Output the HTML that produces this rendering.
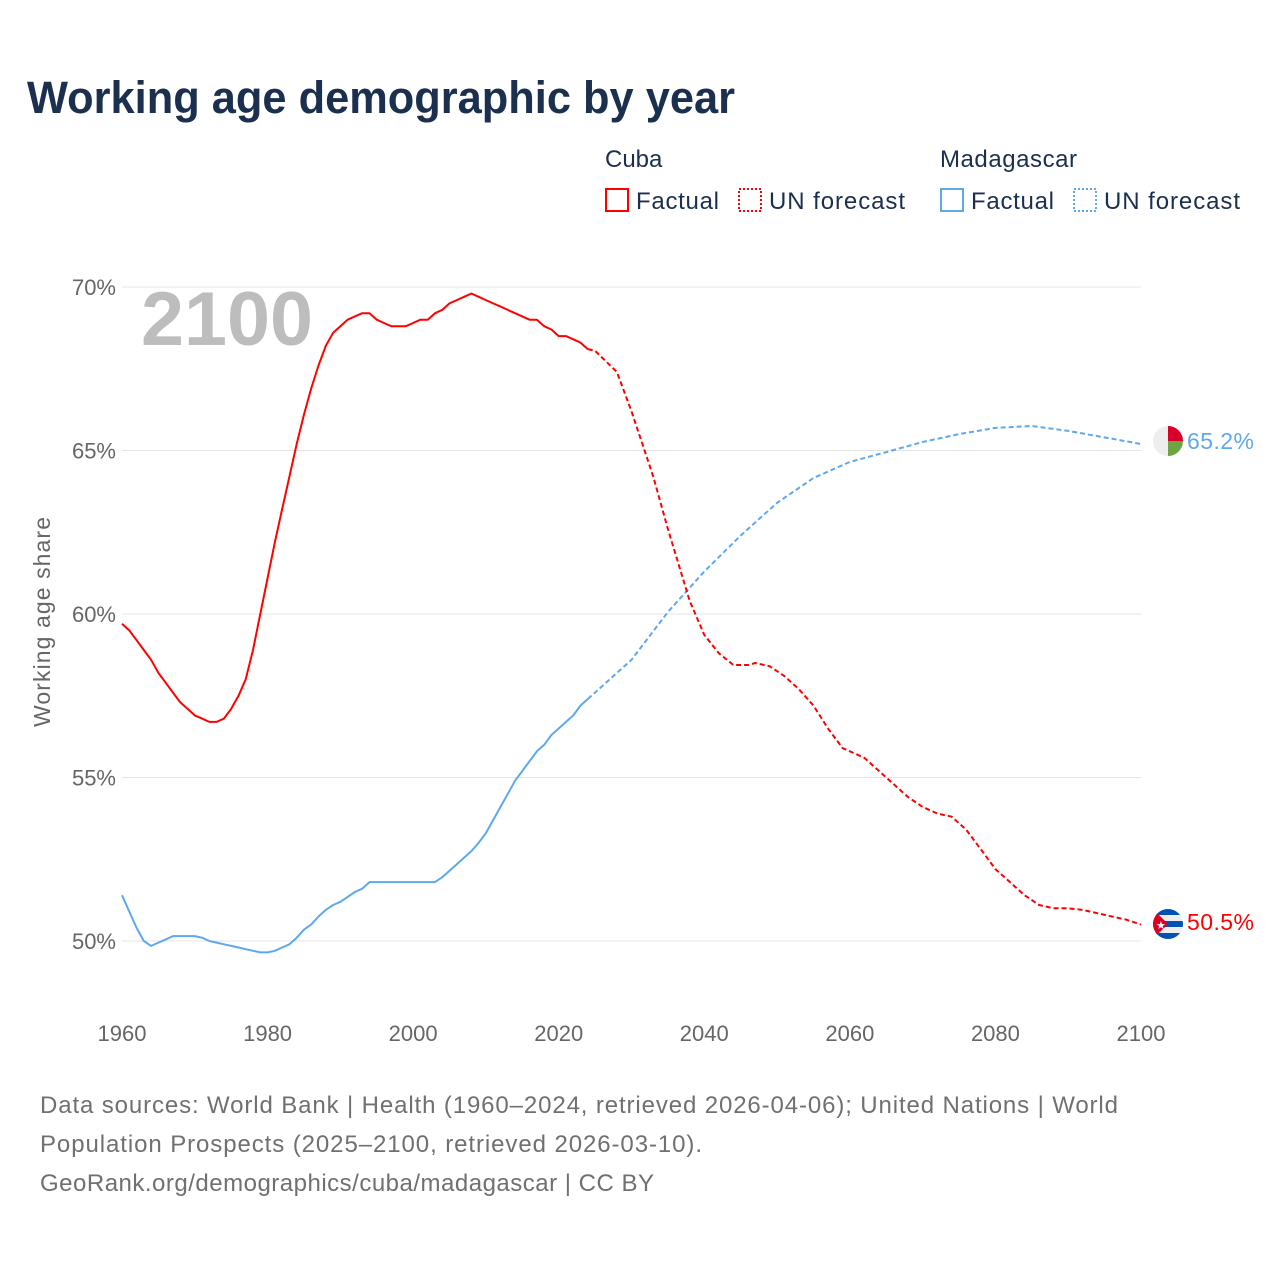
<!DOCTYPE html>
<html><head><meta charset="utf-8">
<style>
html,body{margin:0;padding:0;background:#fff;}
body{width:1280px;height:1280px;position:relative;overflow:hidden;font-family:"Liberation Sans",sans-serif;}
svg text{font-family:"Liberation Sans",sans-serif;}
</style></head>
<body>
<svg id="chart" width="1280" height="1280" xmlns="http://www.w3.org/2000/svg">
<text x="27" y="113" font-size="45" font-weight="bold" fill="#1b2f4e" textLength="708" lengthAdjust="spacingAndGlyphs">Working age demographic by year</text>
<g font-size="24" fill="#1b2f4e">
<text x="605" y="167">Cuba</text>
<rect x="606" y="189" width="22" height="22" fill="none" stroke="#ff0000" stroke-width="2"/>
<text x="636" y="209" textLength="83">Factual</text>
<rect x="739" y="189" width="22" height="22" fill="none" stroke="#ff0000" stroke-width="2" stroke-dasharray="2,2"/>
<text x="769" y="209" textLength="136">UN forecast</text>
<text x="940" y="167" textLength="137">Madagascar</text>
<rect x="941" y="189" width="22" height="22" fill="none" stroke="#5ea8ec" stroke-width="2"/>
<text x="971" y="209" textLength="83">Factual</text>
<rect x="1074" y="189" width="22" height="22" fill="none" stroke="#5ea8ec" stroke-width="2" stroke-dasharray="2,2"/>
<text x="1104" y="209" textLength="136">UN forecast</text>
</g>
<g id="grid"></g>
<text x="141" y="345" font-size="76" font-weight="bold" fill="#bdbdbd" textLength="172" lengthAdjust="spacingAndGlyphs">2100</text>
<text transform="translate(50,622) rotate(-90)" text-anchor="middle" font-size="23" fill="#666" textLength="210">Working age share</text>
<g id="series"></g>
<g>
<clipPath id="cm"><circle cx="1168" cy="441" r="15"/></clipPath>
<g clip-path="url(#cm)"><rect x="1153" y="426" width="30" height="30" fill="#eeeeee"/><rect x="1168" y="426" width="15" height="15" fill="#d8002b"/><rect x="1168" y="441" width="15" height="15" fill="#6da544"/></g>
</g>
<g>
<clipPath id="cc"><circle cx="1168" cy="924" r="15"/></clipPath>
<g clip-path="url(#cc)"><rect x="1153" y="909" width="30" height="30" fill="#eeeeee"/><rect x="1153" y="909" width="30" height="6" fill="#0052b4"/><rect x="1153" y="921" width="30" height="6" fill="#0052b4"/><rect x="1153" y="933" width="30" height="6" fill="#0052b4"/><polygon points="1153,909 1168,924 1153,939" fill="#d80027"/><text x="1156" y="929" font-size="11" fill="#fff">★</text></g>
</g>
<text x="1187" y="449" font-size="23" fill="#5ea8ec" textLength="67">65.2%</text>
<text x="1187" y="930" font-size="23" fill="#ff0000" textLength="67">50.5%</text>
<g font-size="24" fill="#707070">
<text x="40" y="1113" textLength="1078">Data sources: World Bank | Health (1960–2024, retrieved 2026-04-06); United Nations | World</text>
<text x="40" y="1152" textLength="662">Population Prospects (2025–2100, retrieved 2026-03-10).</text>
<text x="40" y="1191" textLength="614">GeoRank.org/demographics/cuba/madagascar | CC BY</text>
</g>
</svg>
<script>
const yTicks=[50,55,60,65,70];
const xTicks=[1960,1980,2000,2020,2040,2060,2080,2100];
const cubaFactualYears=[1960,1961,1962,1963,1964,1965,1966,1967,1968,1969,1970,1971,1972,1973,1974,1975,1976,1977,1978,1979,1980,1981,1982,1983,1984,1985,1986,1987,1988,1989,1990,1991,1992,1993,1994,1995,1996,1997,1998,1999,2000,2001,2002,2003,2004,2005,2006,2007,2008,2009,2010,2011,2012,2013,2014,2015,2016,2017,2018,2019,2020,2021,2022,2023,2024];
const cubaFactual=[59.7,59.5,59.2,58.9,58.6,58.2,57.9,57.6,57.3,57.1,56.9,56.8,56.7,56.7,56.8,57.1,57.5,58.0,58.9,60.0,61.1,62.2,63.2,64.2,65.2,66.1,66.9,67.6,68.2,68.6,68.8,69.0,69.1,69.2,69.2,69.0,68.9,68.8,68.8,68.8,68.9,69.0,69.0,69.2,69.3,69.5,69.6,69.7,69.8,69.7,69.6,69.5,69.4,69.3,69.2,69.1,69.0,69.0,68.8,68.7,68.5,68.5,68.4,68.3,68.1];
const cubaForecastYears=[2024,2025,2028,2030,2033,2035,2038,2040,2042,2044,2046,2047,2049,2051,2053,2055,2057,2059,2060,2062,2064,2066,2068,2070,2072,2074,2076,2078,2080,2082,2084,2086,2088,2090,2092,2094,2096,2098,2100];
const cubaForecast=[68.1,68.05,67.4,66.2,64.2,62.6,60.4,59.36,58.8,58.44,58.44,58.5,58.4,58.1,57.7,57.2,56.5,55.9,55.8,55.6,55.2,54.8,54.4,54.1,53.9,53.8,53.4,52.8,52.2,51.8,51.4,51.1,51.0,51.0,50.95,50.85,50.75,50.65,50.5];
const madFactualYears=[1960,1961,1962,1963,1964,1965,1966,1967,1968,1969,1970,1971,1972,1973,1974,1975,1976,1977,1978,1979,1980,1981,1982,1983,1984,1985,1986,1987,1988,1989,1990,1991,1992,1993,1994,1995,1996,1997,1998,1999,2000,2001,2002,2003,2004,2005,2006,2007,2008,2009,2010,2011,2012,2013,2014,2015,2016,2017,2018,2019,2020,2021,2022,2023,2024];
const madFactual=[51.4,50.9,50.4,50.0,49.85,49.95,50.05,50.15,50.15,50.15,50.15,50.1,50.0,49.95,49.9,49.85,49.8,49.75,49.7,49.65,49.65,49.7,49.8,49.9,50.1,50.35,50.5,50.75,50.95,51.1,51.2,51.35,51.5,51.6,51.8,51.8,51.8,51.8,51.8,51.8,51.8,51.8,51.8,51.8,51.95,52.15,52.35,52.55,52.75,53.0,53.3,53.7,54.1,54.5,54.9,55.2,55.5,55.8,56.0,56.3,56.5,56.7,56.9,57.2,57.4];
const madForecastYears=[2024,2025,2030,2035,2040,2045,2050,2055,2060,2065,2070,2075,2080,2085,2090,2095,2100];
const madForecast=[57.4,57.6,58.6,60.06,61.3,62.4,63.4,64.16,64.65,64.95,65.26,65.5,65.69,65.75,65.6,65.4,65.2];

const NS="http://www.w3.org/2000/svg";
const x=yr=>122+(yr-1960)*(1141-122)/140;
const y=v=>287+(70-v)*(941-287)/20;
const grid=document.getElementById('grid');
yTicks.forEach(t=>{
  const l=document.createElementNS(NS,'line');
  
  
  l.setAttribute('x1',122);l.setAttribute('x2',1141);
  l.setAttribute('y1',y(t));l.setAttribute('y2',y(t));
  l.setAttribute('stroke','#e4e4e4');l.setAttribute('stroke-width','1');
  grid.appendChild(l);
  const tx=document.createElementNS(NS,'text');
  
  
  tx.setAttribute('x',116);tx.setAttribute('y',y(t)+8);
  tx.setAttribute('text-anchor','end');tx.setAttribute('font-size','22');tx.setAttribute('fill','#666');
  tx.textContent=t+'%';
  grid.appendChild(tx);
});
xTicks.forEach(t=>{
  const tx=document.createElementNS(NS,'text');
  
  
  tx.setAttribute('x',x(t));tx.setAttribute('y',1041);
  tx.setAttribute('text-anchor','middle');tx.setAttribute('font-size','22');tx.setAttribute('fill','#666');
  tx.textContent=t;
  grid.appendChild(tx);
});
const series=document.getElementById('series');
function line(yrs,vals,color,dash,name){
  const p=document.createElementNS(NS,'path');
  
  
  p.setAttribute('d',yrs.map((yr,i)=>(i?'L':'M')+x(yr).toFixed(1)+','+y(vals[i]).toFixed(1)).join(''));
  p.setAttribute('fill','none');p.setAttribute('stroke',color);p.setAttribute('stroke-width','2');
  p.setAttribute('stroke-linejoin','round');
  if(dash)p.setAttribute('stroke-dasharray',dash);
  series.appendChild(p);
}
line(madFactualYears,madFactual,'#5ea8ec',null,'madagascar-factual-line');
line(madForecastYears,madForecast,'#5ea8ec','5,3','madagascar-forecast-line');
line(cubaFactualYears,cubaFactual,'#ff0000',null,'cuba-factual-line');
line(cubaForecastYears,cubaForecast,'#ff0000','5,3','cuba-forecast-line');
</script>
</body></html>
